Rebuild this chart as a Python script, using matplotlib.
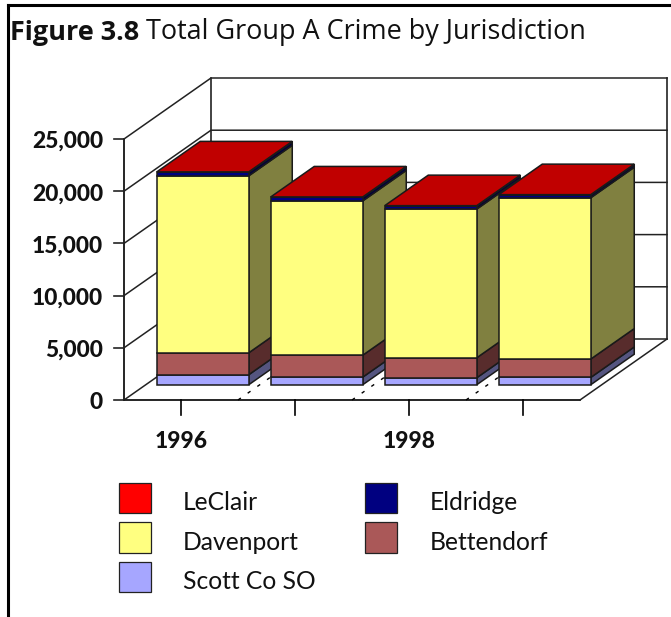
import matplotlib
matplotlib.use("Agg")
import matplotlib.pyplot as plt
from matplotlib.patches import Polygon, Patch

# ---- data ----
years = ["1996", "", "1998", ""]
scott = [960, 730, 670, 700]
bettendorf = [2100, 2100, 1916, 1760]
davenport = [16950, 14780, 14240, 15450]
eldridge = [340, 340, 300, 270]
leclair = [40, 40, 30, 30]
series_names = ["Scott Co SO", "Bettendorf", "Davenport", "Eldridge", "LeClair"]
series_values = [scott, bettendorf, davenport, eldridge, leclair]
front_colors = ["#A6A6FF", "#AA5858", "#FFFF80", "#000080", "#C00000"]
side_colors = ["#555580", "#582C2C", "#808040", "#000040", "#600000"]
legend_colors = {"LeClair": "#FF0000", "Eldridge": "#000080", "Davenport": "#FFFF80",
                 "Bettendorf": "#AA5858", "Scott Co SO": "#A6A6FF"}
legend_order = ["LeClair", "Davenport", "Scott Co SO", "Eldridge", "Bettendorf"]
y_ticks = [0, 5000, 10000, 15000, 20000, 25000]

W, H = 671, 617
fig = plt.figure(figsize=(W / 100, H / 100), dpi=100)
ax = fig.add_axes([0, 0, 1, 1])
ax.axis("off")

# axes scales: x in category units, y in crime counts
PX_CAT = 114.0
PX_VAL = 261.0 / 25000
X0, Y0 = 124.0, 400.0
ax.set_xlim(-0.5 - X0 / PX_CAT, -0.5 + (W - X0) / PX_CAT)
ax.set_ylim(-(H - Y0) / PX_VAL, Y0 / PX_VAL)
DX = 87.0 / PX_CAT          # full depth of the floor, in category units
DY = 61.0 / PX_VAL          # full depth of the floor, in value units
XMIN, XMAX, YMAX = -0.5, 3.5, 25000
BAR_W = 92.0 / PX_CAT


def proj(x, v, d=0.0):
    return (x + d * DX, v + d * DY)


LINE = "#222222"
# back wall, floor and side wall
ax.plot(*zip(proj(XMIN, 0), proj(XMIN, YMAX)), color="k", lw=1.2, zorder=1)
ax.plot(*zip(proj(XMIN, 0, 1), proj(XMIN, YMAX, 1)), color=LINE, lw=1.2, zorder=1)
ax.plot(*zip(proj(XMAX, 0, 1), proj(XMAX, YMAX, 1)), color=LINE, lw=1.2, zorder=1)
ax.plot(*zip(proj(XMIN, 0), proj(XMAX, 0)), color="k", lw=1.2, zorder=1)
ax.plot(*zip(proj(XMAX, 0), proj(XMAX, 0, 1)), color=LINE, lw=1.1, zorder=1)
for v in y_ticks:
    ax.plot(*zip(proj(XMIN, v), proj(XMIN, v, 1), proj(XMAX, v, 1)), color=LINE, lw=1.1, zorder=1)
    ax.plot(*zip((XMIN - 10 / PX_CAT, v), (XMIN, v)), color=LINE, lw=1.2, zorder=1)
    ax.text(XMIN - 21 / PX_CAT, v - 2.5 / PX_VAL, f"{v:,}", ha="right", va="center", family="Lato",
            fontweight="black", fontsize=16.4, color="#111111")

# category boundaries on the floor and ticks
for i in range(4):
    ax.plot([i, i], [0, -15 / PX_VAL], color="k", lw=1.2, zorder=1)
    if years[i]:
        ax.text(i, -41 / PX_VAL, years[i], ha="center", va="center", family="Lato",
                fontweight="black", fontsize=16.4, color="#111111")
    if i < 3:
        ax.plot(*zip(proj(i + 0.5, 0), proj(i + 0.5, 0, 1)), color="k", lw=1.0,
                ls=(0, (2.5, 6)), zorder=1)

# stacked 3-D bars, left to right
D_FRONT, D_BACK = 0.25, 0.75
z = 5
for i in range(4):
    left = i - BAR_W / 2
    right = left + BAR_W
    base = 0.0
    for name, vals, fc, sc in zip(series_names, series_values, front_colors, side_colors):
        top = base + vals[i]
        front = [proj(left, base, D_FRONT), proj(right, base, D_FRONT),
                 proj(right, top, D_FRONT), proj(left, top, D_FRONT)]
        side = [proj(right, base, D_FRONT), proj(right, base, D_BACK),
                proj(right, top, D_BACK), proj(right, top, D_FRONT)]
        ax.add_patch(Polygon(side, closed=True, fc=sc, ec="#1a1a1a", lw=1.1, zorder=z))
        ax.add_patch(Polygon(front, closed=True, fc=fc, ec="#1a1a1a", lw=1.1, zorder=z))
        z += 1
        base = top
    cap = [proj(left, base, D_FRONT), proj(right, base, D_FRONT),
           proj(right, base, D_BACK), proj(left, base, D_BACK)]
    ax.add_patch(Polygon(cap, closed=True, fc="#C00000", ec="#1a1a1a", lw=1.1, zorder=z))
    z += 1

# legend
handles = [Patch(fc=legend_colors[n], ec="#222222", lw=0.9, label=n) for n in legend_order]
leg = ax.legend(handles=handles, ncol=2, loc="upper left",
                bbox_to_anchor=(119 / W, 1 - 483 / H), bbox_transform=fig.transFigure,
                frameon=False, borderpad=0, borderaxespad=0, handlelength=1.3, handleheight=1.53,
                handletextpad=1.3, columnspacing=2.03, labelspacing=0.36,
                prop={"family": "Lato", "size": 17.7}, labelcolor="#111111")
for t in leg.get_texts():
    t.set_y(-4)

# title and page rules
t1 = fig.text(10 / W, 1 - 40 / H, "Figure 3.8", family="Open Sans", fontweight="bold",
              fontsize=19.45, color="#111111", ha="left", va="baseline")
ax.annotate(" Total Group A Crime by Jurisdiction", xy=(1, 0), xycoords=t1,
            family="Open Sans", fontsize=19.45, color="#111111", ha="left", va="bottom")
fig.add_artist(plt.Line2D([8 / W, 1], [1 - 5 / H, 1 - 5 / H], color="k", lw=2.2))
fig.add_artist(plt.Line2D([8 / W, 8 / W], [0, 1 - 5 / H], color="k", lw=2.2))

fig.savefig("out.png", dpi=100)
